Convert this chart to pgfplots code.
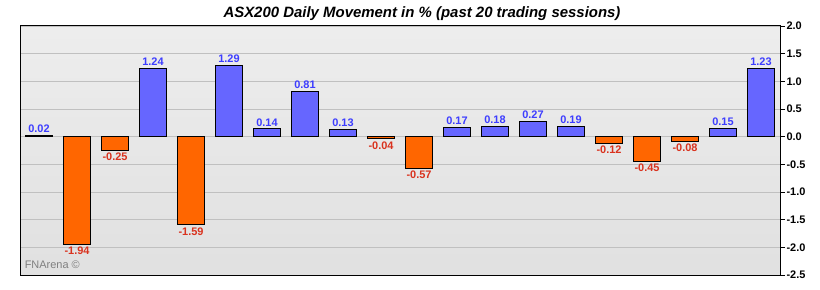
\documentclass[border=0pt]{standalone}
\usepackage{pgfplots}
\pgfplotsset{compat=1.18}
\usepackage{fontspec}
\setmainfont{Liberation Sans}
\definecolor{barblue}{HTML}{6666FF}
\definecolor{barorange}{HTML}{FF6600}
\definecolor{lblblue}{HTML}{3D3DFF}
\definecolor{lblred}{HTML}{D9321E}
\definecolor{gridg}{HTML}{C0C0C0}
\pgfplotstableread{
x y
0 0.02
3 1.24
5 1.29
6 0.14
7 0.81
8 0.13
11 0.17
12 0.18
13 0.27
14 0.19
18 0.15
19 1.23
}\pos
\pgfplotstableread{
x y
1 -1.94
2 -0.25
4 -1.59
9 -0.04
10 -0.57
15 -0.12
16 -0.45
17 -0.08
}\neg
\begin{document}
\begin{tikzpicture}
\begin{axis}[
  name=ax,
  scale only axis,
  width=760bp, height=249bp,
  xmin=-0.5, xmax=19.5,
  ymin=-2.5, ymax=2.0,
  ytick={-2.5,-2,...,2},
  yticklabel pos=right,
  ytick pos=right,
  xtick=\empty,
  ymajorgrids,
  grid style={gridg, line width=0.9bp},
  axis line style={black, line width=1bp},
  ytick style={black, line width=0.8bp},
  major tick length=5bp,
  tick align=outside,
  yticklabel style={font=\fontsize{11}{12}\selectfont\bfseries, xshift=-2bp,
     /pgf/number format/fixed, /pgf/number format/fixed zerofill, /pgf/number format/precision=1},
  /pgf/number format/assume math mode=true,
  axis background/.style={top color=black!7, middle color=white, bottom color=black!12},
  title={\fontsize{15}{17}\selectfont\bfseries\itshape ASX200 Daily Movement in \% (past 20 trading sessions)},
  title style={yshift=-4bp, xshift=22bp},
  ybar, bar width=27bp, bar shift=0pt,
  nodes near coords,
  nodes near coords style={font=\fontsize{11}{12}\selectfont\bfseries,
     /pgf/number format/fixed, /pgf/number format/fixed zerofill, /pgf/number format/precision=2},
  clip=false,
]
\addplot[fill=barblue, draw=black, line width=0.9bp,
  nodes near coords style={text=lblblue, anchor=south, yshift=-1bp}] table[x=x,y=y] {\pos};
\addplot[fill=barorange, draw=black, line width=0.9bp,
  nodes near coords style={text=lblred, anchor=north, yshift=1bp}] table[x=x,y=y] {\neg};
\node[anchor=south west, text=black!50, font=\fontsize{11}{12}\selectfont, inner sep=0pt] at (rel axis cs:0.006,0.025) {FNArena ©};
\end{axis}
\path[use as bounding box] ([xshift=-20bp,yshift=-15bp]ax.south west) rectangle ([xshift=40bp,yshift=26bp]ax.north east);
\end{tikzpicture}
\end{document}
